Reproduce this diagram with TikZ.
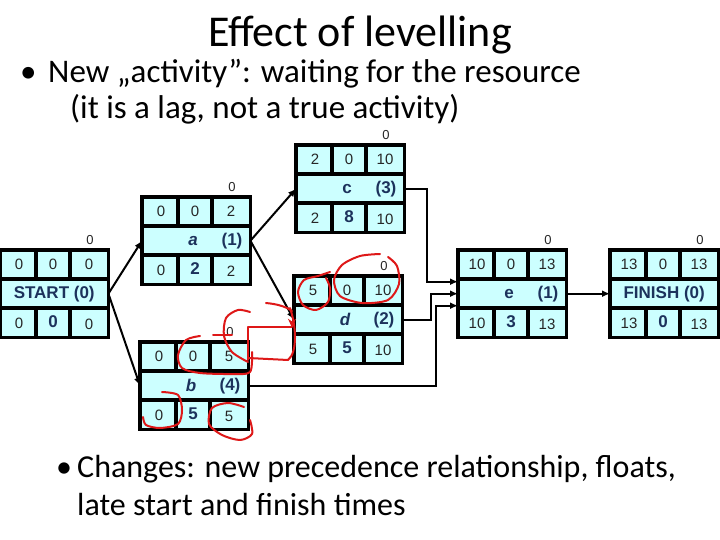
\documentclass[tikz,border=0pt]{standalone}
\usepackage{fontspec}
\setmainfont{Carlito}
\newfontfamily\arialfont{Liberation Sans}
\usepackage{tikz}
\usetikzlibrary{positioning,arrows.meta,calc}
\definecolor{cellcyan}{RGB}{204,255,255}
\definecolor{navy}{RGB}{28,50,92}
\definecolor{pen}{RGB}{222,24,24}
\tikzset{
  box/.style={rectangle, fill=cellcyan, minimum width=108pt, minimum height=87pt, inner sep=0pt},
  frame/.style={line width=3.5pt, draw=black},
  num/.style={font=\arialfont\fontsize{15}{17}\selectfont, text=black!85, inner sep=0pt},
  big/.style={font=\arialfont\bfseries\fontsize{17}{19}\selectfont, text=navy, inner sep=0pt},
  lbl/.style={font=\arialfont\bfseries\fontsize{17}{19}\selectfont, text=navy, inner sep=0pt},
  flt/.style={font=\arialfont\fontsize{13}{15}\selectfont, text=black!85, inner sep=0pt},
  wire/.style={-{Latex[length=8pt,width=7pt]}, line width=2pt},
  scribble/.style={draw=pen, line width=2pt, line cap=round, line join=round},
  say/.style={font=\fontsize{33}{38}\selectfont, inner sep=0pt, anchor=base west},
  saylow/.style={font=\fontsize{32}{38}\selectfont, inner sep=0pt, anchor=base west}
}
% frame of one activity box: name, left, top
\newcommand{\actbox}[3]{%
  \node[box, anchor=north west] (#1) at (#2,#3) {};
  \draw[frame] (#1.north west) rectangle (#1.south east);
  \draw[frame] ($(#1.north west)+(0,29)$) -- ++(108,0);
  \draw[frame] ($(#1.north west)+(0,58)$) -- ++(108,0);
  \draw[frame] ($(#1.north west)+(36,0)$) -- ++(0,29);
  \draw[frame] ($(#1.north west)+(70,0)$) -- ++(0,29);
  \draw[frame] ($(#1.north west)+(36,58)$) -- ++(0,29);
  \draw[frame] ($(#1.north west)+(70,58)$) -- ++(0,29);
}
% times of one box: name, tl, tm, tr, bl, bm, br, float
\newcommand{\actvals}[8]{%
  \node[num] at ($(#1.north west)+(19,14.5)$) {#2};
  \node[num] at ($(#1.north west)+(53,14.5)$) {#3};
  \node[num] at ($(#1.north west)+(89,14.5)$) {#4};
  \node[num] at ($(#1.north west)+(19,73)$) {#5};
  \node[big] at ($(#1.north west)+(53,72)$) {#6};
  \node[num] at ($(#1.north west)+(89,74)$) {#7};
  \node[flt] at ($(#1.north west)+(90,-10)$) {#8};
}

\begin{document}
\begin{tikzpicture}[x=1pt, y=-1pt]
\fill[white] (0,0) rectangle (720,540);
\useasboundingbox (0,0) rectangle (720,540);

% texts
\node[font=\fontsize{44}{52}\selectfont, inner sep=0pt, anchor=base] (title) at (360,47) {Effect of levelling};
\node[say] (dot1) at (20,83) {•};
\node[say] (l1) at (48,83) {New „activity”: waiting for the resource};
\node[say] (l2) at (70,119) {(it is a lag, not a true activity)};
\node[saylow] (dot2) at (56,477) {•};
\node[saylow] (l3) at (77,477) {Changes: new precedence relationship, floats,};
\node[saylow] (l4) at (77,515) {late start and finish times};

% activity boxes
\actbox{start}{0}{250}
\actbox{a}{142}{197}
\actbox{c}{296}{145}
\actbox{b}{140}{342}
\actbox{d}{294}{276}
\actbox{e}{458}{250}
\actbox{finish}{610}{250}

\actvals{start}{0}{0}{0}{0}{0}{0}{0}
\actvals{a}{0}{0}{2}{0}{2}{2}{0}
\actvals{c}{2}{0}{10}{2}{8}{10}{0}
\actvals{b}{0}{0}{5}{0}{5}{5}{0}
\actvals{d}{5}{0}{10}{5}{5}{10}{0}
\actvals{e}{10}{0}{13}{10}{3}{13}{0}
\actvals{finish}{13}{0}{13}{13}{0}{13}{0}

\node[lbl] at (start) {START (0)};
\node[lbl] at (finish) {FINISH (0)};
\node[lbl] at ($(a.west)+(51,0)$) {\itshape a};
\node[lbl] at ($(a.west)+(90,0)$) {(1)};
\node[lbl] at ($(b.west)+(51,0)$) {\itshape b};
\node[lbl] at ($(b.west)+(90,0)$) {(4)};
\node[lbl] at ($(c.west)+(51,0)$) {c};
\node[lbl] at ($(c.west)+(90,0)$) {(3)};
\node[lbl] at ($(d.west)+(51,0)$) {\itshape d};
\node[lbl] at ($(d.west)+(90,0)$) {(2)};
\node[lbl] at ($(e.west)+(51,0)$) {e};
\node[lbl] at ($(e.west)+(90,0)$) {(1)};

% precedence links
\draw[wire] (start.east) -- (a.west);
\draw[wire] (start.east) -- (b.west);
\draw[wire] (a.east) -- (c.west);
\draw[wire] (a.east) -- (d.west);
\draw[wire] (c.east) -- ++(23,0) |- ($(e.west)+(0,-12)$);
\draw[wire] (d.east) -- ++(29,0) |- (e.west);
\draw[wire] (b.east) -- ++(188,0) |- ($(e.west)+(0,12)$);
\draw[wire] (e.east) -- (finish.west);

% red pen marks
\draw[scribble, -{Stealth[length=9pt,width=8pt]}] ($(b.north east)+(0,18)$) -- ++(0,-33) -| ($(d.west)+(-2,8)$);
\draw[scribble] ($(b.north east)+(0,16)$) -- (288,360) .. controls (298,352) and (296,325) .. (290,308);
\draw[scribble] (266,303) .. controls (276,304) and (285,306) .. (292,311);
\draw[scribble] plot[smooth] coordinates {(330,272) (318,276) (304,280) (298,292) (303,305) (316,310) (328,302) (330,288) (326,278)};
\draw[scribble] plot[smooth] coordinates {(380,254) (360,256) (342,265) (334,280) (340,296) (362,303) (388,300) (399,284) (397,266) (388,257)};
\draw[scribble] plot[smooth] coordinates {(200,336) (186,340) (178,355) (182,368) (200,373) (232,374) (250,372) (252,352)};
\draw[scribble] (213,335) -- (232,335);
\draw[scribble] plot[smooth] coordinates {(250,312) (238,310) (226,318) (224,336) (232,352) (248,362)};
\draw[scribble] plot[smooth] coordinates {(162,392) (178,395) (182,410) (178,424) (160,428) (146,425) (143,417)};
\draw[scribble] plot[smooth] coordinates {(244,407) (228,403) (212,408) (209,424) (222,435) (240,440) (252,434) (250,420)};
\end{tikzpicture}
\end{document}
